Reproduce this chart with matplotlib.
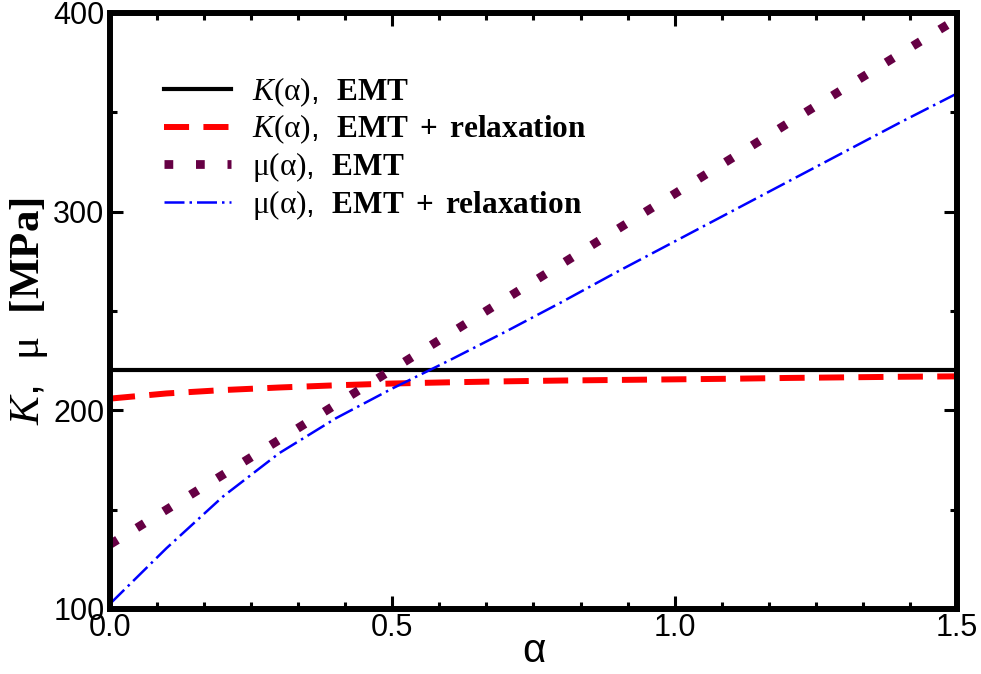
import numpy as np
import matplotlib
matplotlib.use("Agg")
import matplotlib.pyplot as plt
from matplotlib.ticker import MultipleLocator

plt.rcParams['font.family'] = ['Liberation Sans', 'DejaVu Sans']
plt.rcParams['mathtext.fontset'] = 'custom'
plt.rcParams['mathtext.rm'] = 'Liberation Serif'
plt.rcParams['mathtext.it'] = 'Liberation Serif:italic'
plt.rcParams['mathtext.bf'] = 'Liberation Serif:bold'

# -------------------------------
# Data
# -------------------------------
alpha = [0.0, 0.1, 0.2, 0.3, 0.4, 0.5, 0.6, 0.7, 0.8,
         0.9, 1.0, 1.1, 1.2, 1.3, 1.4, 1.5]

K_emt = [220.5] * len(alpha)
K_relax = [205.9, 208.5, 210.2, 211.5, 212.6, 213.5, 214.1, 214.6, 215.0,
           215.3, 215.6, 215.9, 216.3, 216.6, 216.9, 217.1]
mu_emt = [132.5, 150.0, 167.6, 185.2, 202.9, 220.6, 238.3, 256.0, 273.7,
          291.4, 309.0, 326.7, 344.4, 362.0, 379.6, 397.0]
mu_relax = [102.6, 130.6, 156.6, 178.5, 196.0, 211.0, 225.0, 239.5, 254.5,
            270.0, 285.0, 300.0, 315.0, 330.0, 345.0, 359.5]

labels = [r'$\mathit{K}\mathrm{(\alpha)}$,  $\mathbf{EMT}$',
          r'$\mathit{K}\mathrm{(\alpha)}$,  $\mathbf{EMT\ +\ relaxation}$',
          r'$\mathrm{\mu(\alpha)}$,  $\mathbf{EMT}$',
          r'$\mathrm{\mu(\alpha)}$,  $\mathbf{EMT\ +\ relaxation}$']

# -------------------------------
# Plot
# -------------------------------
fig = plt.figure(figsize=(9.81, 6.74), dpi=100)
ax = fig.add_axes([110 / 981, 1 - 609 / 674, 847 / 981, 596 / 674])

ax.plot(alpha, K_emt, color='black', lw=3.0, label=labels[0])
l2, = ax.plot(alpha, K_relax, color='#ff0000', lw=4.3, label=labels[1])
l2.set_dashes((4.2, 2.4))
l3, = ax.plot(alpha, mu_emt, color='#660044', lw=6.3, label=labels[2])
l3.set_dashes((1, 2.6))
l4, = ax.plot(alpha, mu_relax, color='#0000ff', lw=1.8, label=labels[3])
l4.set_dashes((8, 2, 1, 2))

ax.set_xlim(0, 1.5)
ax.set_ylim(100, 400)
ax.xaxis.set_major_locator(MultipleLocator(0.5))
ax.xaxis.set_minor_locator(MultipleLocator(0.5 / 6))
ax.yaxis.set_major_locator(MultipleLocator(100))
ax.yaxis.set_minor_locator(MultipleLocator(50))
ax.tick_params(which='both', direction='in', top=True, right=True,
               width=2.2, labelsize=22, pad=3)
ax.tick_params(which='major', length=9.5)
ax.tick_params(which='minor', length=5)
ax.tick_params(axis='y', which='major', pad=4)

for s in ax.spines.values():
    s.set_linewidth(4.3)

ax.set_xlabel('α', fontsize=29, labelpad=-8)
ax.set_ylabel(r'$\mathit{K}$,  $\mathrm{\mu}$  $\mathbf{[MPa]}$',
              fontsize=31, labelpad=2)

ax.legend(loc='upper left', bbox_to_anchor=(0.064, 0.895), frameon=False,
          fontsize=22.5, handlelength=2.15, handletextpad=0.65,
          labelspacing=0.12, borderpad=0, borderaxespad=0)

fig.savefig('out.png', dpi=100)
